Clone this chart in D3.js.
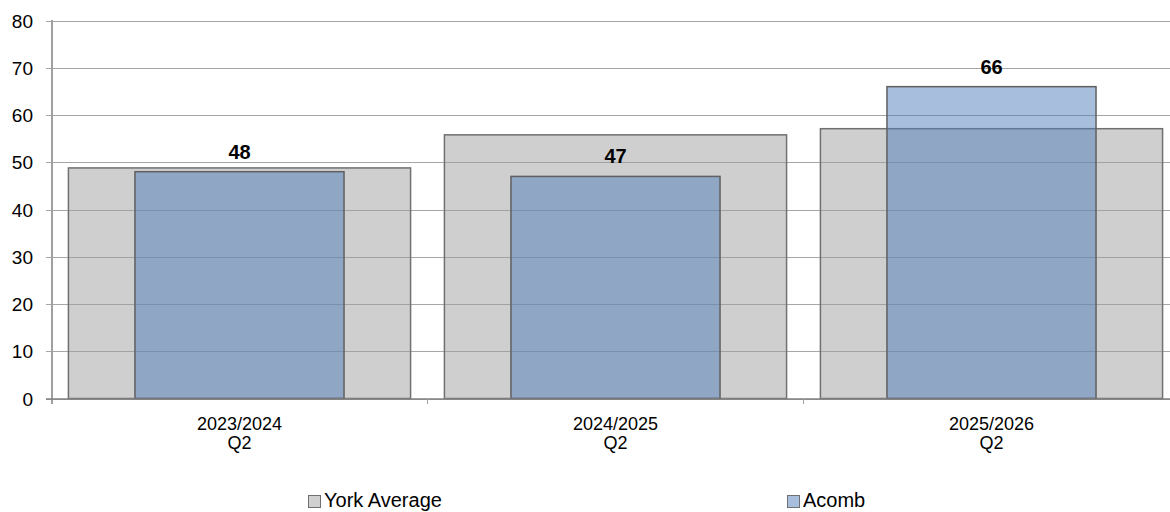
<!DOCTYPE html>
<html><head><meta charset="utf-8">
<script src="https://cdn.jsdelivr.net/npm/d3@7"></script>
<style>body{margin:0;background:#fff;}svg{display:block;font-family:"Liberation Sans",Arial,sans-serif;}</style>
</head><body>
<svg id="c" width="1170" height="512"></svg>
<script>
const categories = [["2023/2024","Q2"],["2024/2025","Q2"],["2025/2026","Q2"]];
const yorkAverage = [48.8, 55.8, 57.1];
const acomb = [48, 47, 66];
const yTicks = [0,10,20,30,40,50,60,70,80];
const seriesNames = ["York Average","Acomb"];

const svg = d3.select("#c");
const x = d3.scaleBand().domain(d3.range(categories.length)).range([51.5, 1179.5]);
const y = d3.scaleLinear().domain([0,80]).range([398.5, 20.5]);

// gridlines
svg.append("g").selectAll("line").data(yTicks).join("line")
  .attr("x1", 46).attr("x2", 1170)
  .attr("y1", d=>Math.round(y(d))+0.5).attr("y2", d=>Math.round(y(d))+0.5)
  .attr("stroke", "#a6a6a6").attr("stroke-width", 1);

// y labels
svg.append("g").selectAll("text").data(yTicks).join("text")
  .attr("x", 33).attr("y", d=>y(d)+7)
  .attr("text-anchor","end").attr("font-size",19).attr("fill","#000")
  .text(d=>d);

const bw = x.bandwidth();
// grey bars
svg.append("g").selectAll("rect").data(yorkAverage).join("rect")
  .attr("x",(d,i)=>x(i)+bw*0.045).attr("width",bw*0.91)
  .attr("y",d=>y(d)).attr("height",d=>y(0)-y(d))
  .attr("fill","rgba(160,160,160,0.5)").attr("stroke","#707070").attr("stroke-width",1.5);
// blue bars
svg.append("g").selectAll("rect").data(acomb).join("rect")
  .attr("x",(d,i)=>x(i)+bw*0.222).attr("width",bw*0.556)
  .attr("y",d=>y(d)).attr("height",d=>y(0)-y(d))
  .attr("fill","rgba(79,127,187,0.5)").attr("stroke","#606060").attr("stroke-width",1.5);

// data labels
svg.append("g").selectAll("text").data(acomb).join("text")
  .attr("x",(d,i)=>x(i)+bw/2).attr("y",d=>y(d)-13)
  .attr("text-anchor","middle").attr("font-size",20).attr("font-weight","bold")
  .text(d=>d);

// y axis line
svg.append("line").attr("x1",52).attr("x2",52).attr("y1",20).attr("y2",404)
  .attr("stroke","#a0a0a0").attr("stroke-width",2);
// x axis line
svg.append("line").attr("x1",46).attr("x2",1170).attr("y1",399).attr("y2",399)
  .attr("stroke","#808080").attr("stroke-width",1.5);
// x ticks
svg.append("g").selectAll("line").data(d3.range(1,categories.length)).join("line")
  .attr("x1",i=>x(i)).attr("x2",i=>x(i)).attr("y1",399).attr("y2",404)
  .attr("stroke","#a0a0a0").attr("stroke-width",1);

// x labels
const xl = svg.append("g").selectAll("text").data(categories).join("text")
  .attr("text-anchor","middle").attr("font-size",18).attr("fill","#000");
xl.append("tspan").attr("x",(d,i)=>x(i)+bw/2).attr("y",430).text(d=>d[0]);
xl.append("tspan").attr("x",(d,i)=>x(i)+bw/2).attr("y",449).text(d=>d[1]);

// legend
const legX = [308, 787];
const legFill = ["rgb(208,208,208)","rgb(167,191,221)"];
const lg = svg.append("g").selectAll("g").data(seriesNames).join("g");
lg.append("rect").attr("x",(d,i)=>legX[i]+0.5).attr("y",495.5).attr("width",12).attr("height",12)
  .attr("fill",(d,i)=>legFill[i]).attr("stroke","#707070").attr("stroke-width",1);
lg.append("text").attr("x",(d,i)=>legX[i]+16).attr("y",507).attr("font-size",20).text(d=>d);
</script>
</body></html>
